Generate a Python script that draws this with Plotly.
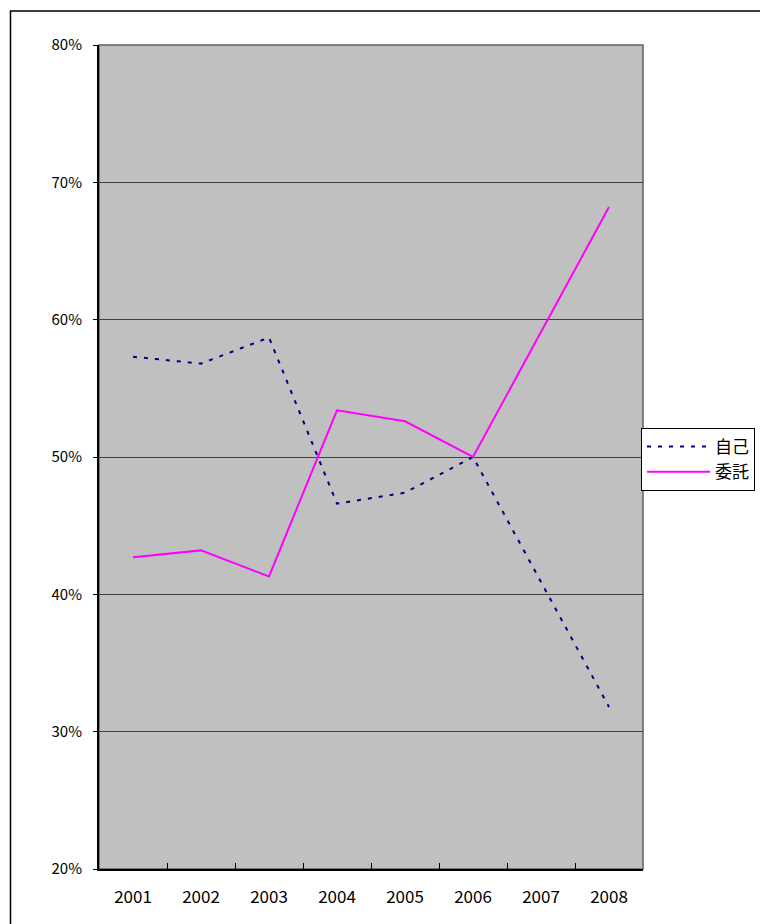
import plotly.graph_objects as go

years = ["2001", "2002", "2003", "2004", "2005", "2006", "2007", "2008"]
self_pct = [57.3, 56.8, 58.7, 46.6, 47.4, 50.0, 40.9, 31.8]
consign_pct = [42.7, 43.2, 41.3, 53.4, 52.6, 50.0, 59.1, 68.2]
series_names = ["自己", "委託"]
y_ticks = [20, 30, 40, 50, 60, 70, 80]
y_labels = ["20%", "30%", "40%", "50%", "60%", "70%", "80%"]

W, H = 760, 924
L, R, T, B = 99, 643, 45, 869

fig = go.Figure()
fig.add_trace(go.Scatter(x=years, y=self_pct, name=series_names[0], mode="lines",
                         line=dict(color="#000080", width=2, dash="4px,7px")))
fig.add_trace(go.Scatter(x=years, y=consign_pct, name=series_names[1], mode="lines",
                         line=dict(color="#FF00FF", width=2)))

def px_x(p):
    return (p - L) / (R - L)

def px_y(p):
    return (B - p) / (B - T)

font = "Noto Sans CJK JP"
fig.update_layout(
    width=W, height=H,
    margin=dict(l=L, r=W - R, t=T, b=H - B, autoexpand=False),
    paper_bgcolor="white",
    plot_bgcolor="#C0C0C0",
    font=dict(family=font, size=15, color="black"),
    showlegend=True,
    legend=dict(x=px_x(641), y=px_y(428), xanchor="left", yanchor="top",
                bgcolor="white", bordercolor="black", borderwidth=1,
                font=dict(family=font, size=17), tracegroupgap=0,
                itemwidth=63),
    xaxis=dict(type="category", range=[-0.5, 7.5], showgrid=False,
               showline=True, linecolor="black", linewidth=2,
               ticks="inside", tickson="boundaries", ticklen=6, tickcolor="black",
               ticklabelstandoff=12, zeroline=False,
               tickfont=dict(family=font, size=17)),
    yaxis=dict(range=[20, 80], tickvals=y_ticks, ticktext=y_labels,
               showgrid=True, gridcolor="#404040", gridwidth=1,
               showline=True, linecolor="black", linewidth=2,
               ticks="outside", ticklen=4, tickcolor="black",
               ticklabelstandoff=8, zeroline=False,
               tickfont=dict(family=font, size=15)),
    shapes=[
        dict(type="rect", xref="paper", yref="paper", x0=0, x1=1, y0=0, y1=1,
             line=dict(color="#606060", width=1.5), layer="below"),
        dict(type="rect", xref="paper", yref="paper",
             x0=px_x(10.5), x1=px_x(775), y0=px_y(940), y1=px_y(11),
             line=dict(color="black", width=1.5)),
    ],
)

fig.write_html("out.html")
